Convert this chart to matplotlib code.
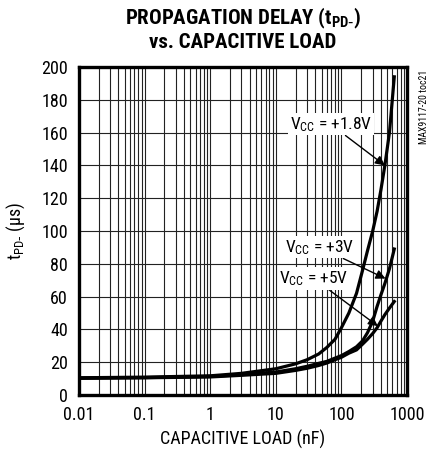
import matplotlib
matplotlib.use("Agg")
import matplotlib.pyplot as plt
from matplotlib import font_manager as fm
from matplotlib.ticker import FixedLocator, NullFormatter

names = {f.name for f in fm.fontManager.ttflist}
FONT = next((n for n in ["Liberation Sans Narrow", "Roboto Condensed", "Liberation Sans"] if n in names), "DejaVu Sans")
plt.rcParams["font.family"] = [FONT, "DejaVu Sans"]
plt.rcParams["mathtext.default"] = "regular"

# ---- data ----
cap_nf = [0.01, 0.1, 1, 3, 10, 20, 30, 45, 60, 80, 100, 130, 170, 210, 250, 300, 350, 400, 460, 540, 640]
tpd_18v = [10.5, 10.9, 11.7, 13.2, 16.0, 19.0, 21.5, 25.0, 29.0, 34.0, 41.0, 50.0, 62.0, 76.0, 88.0,
           100.0, 112.0, 125.0, 140.0, 160.0, 194.0]
tpd_3v = [10.3, 10.6, 11.3, 12.4, 14.0, 16.0, 17.5, 19.3, 20.5, 22.5, 24.0, 26.5, 29.4, 33.0, 38.0,
          45.0, 54.0, 61.0, 68.0, 77.0, 89.0]
tpd_5v = [10.2, 10.5, 11.0, 12.0, 13.2, 15.0, 16.3, 18.0, 19.5, 21.5, 23.0, 25.5, 27.5, 31.0, 34.0,
          37.5, 41.0, 45.0, 49.0, 53.0, 57.0]
x_ticks = [0.01, 0.1, 1, 10, 100, 1000]
x_tick_labels = ["0.01", "0.1", "1", "10", "100", "1000"]
y_ticks = list(range(0, 201, 20))

fig = plt.figure(figsize=(4.28, 4.54), dpi=100)
ax = fig.add_axes([79 / 428, 59 / 454, 328 / 428, 328 / 454])

for y in (tpd_18v, tpd_3v, tpd_5v):
    ax.plot(cap_nf, y, color="black", lw=2.3, solid_joinstyle="round", zorder=3)

ax.set_xscale("log")
ax.set_xlim(0.01, 1000)
ax.set_ylim(0, 200)
ax.xaxis.set_major_locator(FixedLocator(x_ticks))
ax.set_xticklabels(x_tick_labels)
minors = [m * 10.0 ** e for e in range(-2, 3) for m in range(2, 10)]
ax.xaxis.set_minor_locator(FixedLocator(minors))
ax.xaxis.set_minor_formatter(NullFormatter())
ax.set_yticks(y_ticks)
ax.tick_params(which="both", length=0, labelsize=13)
ax.tick_params(axis="x", pad=8)
ax.tick_params(axis="y", pad=8)
ax.grid(True, which="both", axis="x", color="#222222", lw=0.8)
ax.grid(True, which="major", axis="y", color="#222222", lw=0.8)
for s in ax.spines.values():
    s.set_linewidth(2.4)

SUB = r"$_{PD\text{-}}$"
ax.set_xlabel("CAPACITIVE LOAD (nF)", fontsize=13, labelpad=4)
ax.set_ylabel("t" + SUB + " (µs)", fontsize=13, labelpad=10)

fig.text(243 / 428, 1 - 18 / 454, "PROPAGATION DELAY (t" + SUB + ")", ha="center", va="center",
         fontsize=15, fontweight="bold")
fig.text(243 / 428, 1 - 42 / 454, "vs. CAPACITIVE LOAD", ha="center", va="center",
         fontsize=15, fontweight="bold")
fig.text(424 / 428, 1 - 70 / 454, "MAX9117-20 toc21", rotation=90, ha="center", va="top",
         fontsize=7)

box = dict(boxstyle="square,pad=0.1", fc="white", ec="none")
arrow = dict(arrowstyle="-|>", color="black", lw=1.0, mutation_scale=14, shrinkA=0, shrinkB=0)
ax.annotate("V$_{CC}$ = +1.8V", xy=(460, 140), xytext=(69, 165), fontsize=12.5,
            ha="center", va="center", bbox=box, arrowprops=arrow, zorder=4)
ax.annotate("V$_{CC}$ = +3V", xy=(470, 71), xytext=(47, 90), fontsize=12.5,
            ha="center", va="center", bbox=box, arrowprops=arrow, zorder=4)
ax.annotate("V$_{CC}$ = +5V", xy=(360, 42), xytext=(38, 71), fontsize=12.5,
            ha="center", va="center", bbox=box, arrowprops=arrow, zorder=4)

fig.savefig("out.png", dpi=100)
